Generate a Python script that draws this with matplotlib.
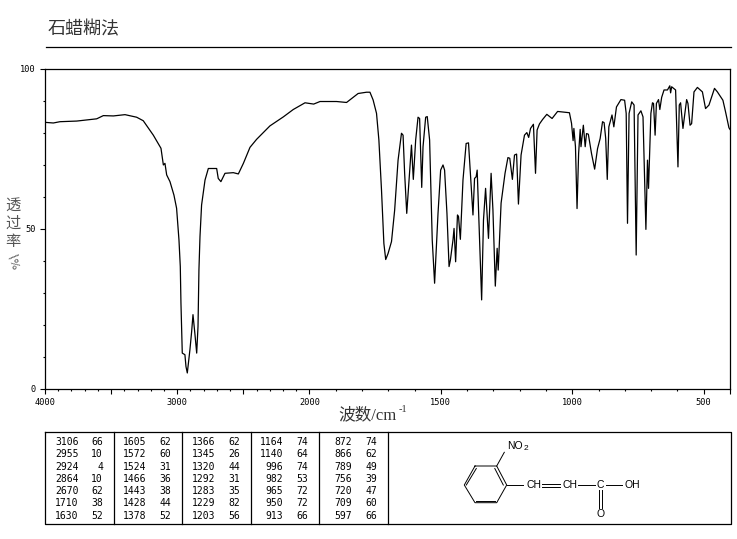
import numpy as np
import matplotlib
matplotlib.use('Agg')
import matplotlib.pyplot as plt
from matplotlib.ticker import FixedLocator, NullFormatter, FixedFormatter

W, H = 737, 539
CJK = ['Noto Sans CJK SC', 'DejaVu Sans']
SERIF = ['Liberation Serif', 'Noto Sans CJK SC']

title = '石蜡糊法'
xlabel = '波数/cm'
ylabel_chars = ['透', '过', '率']

# spectrum
wavenumber = [
    4000, 3937, 3887, 3760, 3609, 3559, 3483, 3395, 3307, 3257, 3181, 3123, 3105, 3093, 3080, 3055,
    3025, 3005, 2987, 2977, 2972, 2962, 2942, 2934, 2924, 2914, 2904, 2891, 2881, 2866, 2853, 2843,
    2836, 2828, 2816, 2790, 2765, 2702, 2690, 2670, 2639, 2576, 2538, 2500, 2450, 2400, 2299, 2198,
    2123, 2034, 1984, 1960, 1897, 1859, 1815, 1783, 1770, 1758, 1745, 1736, 1726, 1717, 1710, 1701,
    1688, 1676, 1663, 1650, 1644, 1638, 1630, 1622, 1612, 1605, 1596, 1587, 1581, 1573, 1568, 1558,
    1552, 1543, 1533, 1524, 1511, 1501, 1492, 1486, 1477, 1469, 1464, 1454, 1450, 1444, 1437, 1433,
    1426, 1416, 1404, 1395, 1387, 1378, 1372, 1366, 1362, 1345, 1338, 1330, 1319, 1309, 1302, 1293,
    1286, 1282, 1271, 1256, 1245, 1238, 1228, 1220, 1212, 1205, 1195, 1182, 1173, 1166, 1159, 1148,
    1140, 1134, 1125, 1113, 1097, 1077, 1056, 1011, 1003, 997, 994, 988, 982, 976, 970, 967,
    958, 951, 946, 939, 927, 915, 904, 894, 885, 879, 873, 867, 861, 849, 842, 832,
    815, 801, 795, 790, 784, 774, 765, 757, 750, 739, 731, 720, 714, 710, 701, 695,
    691, 685, 680, 672, 667, 660, 651, 638, 629, 626, 622, 607, 598, 593, 588, 579,
    565, 560, 552, 546, 537, 524, 505, 493, 480, 459, 448, 427, 417, 404, 400]
transmittance = [
    83.2, 83.0, 83.4, 83.6, 84.3, 85.3, 85.2, 85.6, 84.8, 83.7, 79.2, 75.1, 69.9, 70.4, 66.8, 64.7,
    60.5, 56.4, 46.5, 38.2, 26.8, 11.2, 10.7, 7.0, 5.0, 8.6, 12.3, 18.0, 23.2, 17.0, 11.2, 19.5,
    37.2, 47.6, 57.4, 65.2, 68.8, 68.8, 65.7, 64.7, 67.3, 67.5, 67.1, 70.4, 75.4, 77.9, 82.1, 84.9,
    87.2, 89.3, 88.9, 89.7, 89.7, 89.4, 92.2, 92.6, 92.6, 90.2, 86.0, 77.7, 62.0, 45.4, 40.4, 42.3,
    46.0, 55.8, 71.4, 79.8, 79.2, 67.3, 54.8, 64.2, 76.1, 65.4, 77.7, 84.8, 84.4, 62.9, 75.6, 84.8,
    85.0, 77.7, 46.5, 33.0, 54.8, 68.3, 69.9, 68.3, 54.8, 38.2, 40.2, 46.5, 50.1, 39.7, 54.3, 53.8,
    46.7, 65.2, 76.6, 76.8, 66.2, 54.3, 65.7, 66.2, 68.3, 27.8, 52.7, 62.6, 47.0, 67.3, 55.8, 32.1,
    43.9, 37.1, 58.0, 67.3, 72.2, 72.0, 65.4, 73.0, 73.3, 57.7, 73.0, 79.2, 80.0, 78.5, 81.3, 82.6,
    67.3, 80.8, 82.7, 84.1, 85.7, 84.4, 86.6, 86.2, 82.9, 77.5, 81.3, 75.6, 56.3, 73.5, 81.0, 75.6,
    82.3, 75.6, 79.7, 79.5, 73.5, 68.6, 75.0, 78.2, 83.4, 83.1, 78.2, 65.4, 81.8, 85.5, 81.8, 88.0,
    90.3, 90.1, 86.0, 51.7, 86.0, 89.6, 88.6, 41.8, 85.5, 86.8, 84.9, 49.8, 71.4, 62.6, 86.0, 89.3,
    89.1, 79.2, 89.1, 90.3, 87.2, 91.0, 93.3, 93.3, 94.6, 92.4, 94.3, 93.3, 69.3, 88.6, 89.3, 81.3,
    90.3, 89.1, 82.3, 82.8, 92.7, 94.1, 92.7, 87.5, 88.6, 93.8, 92.7, 90.1, 86.5, 81.5, 81.0]

# peak table, column by column
peak_wn = [
    [3106, 2955, 2924, 2864, 2670, 1710, 1630],
    [1605, 1572, 1524, 1466, 1443, 1428, 1378],
    [1366, 1345, 1320, 1292, 1283, 1229, 1203],
    [1164, 1140, 996, 982, 965, 950, 913],
    [872, 866, 789, 756, 720, 709, 597],
]
peak_t = [
    [66, 10, 4, 10, 62, 38, 52],
    [62, 60, 31, 36, 38, 44, 52],
    [62, 26, 44, 31, 35, 82, 56],
    [74, 64, 74, 53, 72, 72, 66],
    [74, 62, 49, 39, 47, 60, 66],
]

x_major = [4000, 3500, 3000, 2500, 2000, 1500, 1000, 500, 400]
x_labels = ['4000', '', '3000', '', '2000', '1500', '1000', '500', '']
x_minor = list(range(500, 4000, 100))
y_major = [0, 50, 100]
y_minor = [10, 20, 30, 40, 60, 70, 80, 90]


# the wavenumber axis is twice as wide below 2000
def forward(v):
    return np.interp(v, [400, 2000, 4000], [0, 420.5, 685])


def inverse(v):
    return np.interp(v, [0, 420.5, 685], [400, 2000, 4000])


fig = plt.figure(figsize=(W / 100, H / 100), dpi=100)

ax = fig.add_axes([45 / W, 1 - 389 / H, 685 / W, 320.5 / H])
ax.set_xscale('function', functions=(forward, inverse))
ax.plot(wavenumber, transmittance, color='black', lw=0.9)
ax.set_xlim(4000, 400)
ax.set_ylim(0, 100)

ax.xaxis.set_major_locator(FixedLocator(x_major))
ax.xaxis.set_major_formatter(FixedFormatter(x_labels))
ax.xaxis.set_minor_locator(FixedLocator(x_minor))
ax.xaxis.set_minor_formatter(NullFormatter())
ax.yaxis.set_major_locator(FixedLocator(y_major))
ax.yaxis.set_minor_locator(FixedLocator(y_minor))
ax.yaxis.set_minor_formatter(NullFormatter())
ax.tick_params(which='major', length=3.6, width=0.8, labelsize=6.2, pad=3)
ax.tick_params(which='minor', length=1.6, width=0.8)
for lab in ax.get_xticklabels() + ax.get_yticklabels():
    lab.set_family('DejaVu Sans Mono')
for s in ax.spines.values():
    s.set_linewidth(0.9)

# everything else is laid out in pixels of the picture
page = fig.add_axes([0, 0, 1, 1], zorder=-1)
page.set_xlim(0, W)
page.set_ylim(H, 0)
page.axis('off')

page.text(48, 29, title, family=CJK, fontsize=13, color='#333333', va='center', ha='left')
page.plot([46, 731], [47, 47], color='black', lw=0.9)

page.text(338, 415, xlabel, family=SERIF, fontsize=12, color='#333333', va='center', ha='left')
page.text(399, 409, '-1', family=SERIF, fontsize=7.5, color='#333333', va='center', ha='left')

for y, ch in zip([205.5, 223.5, 241.5], ylabel_chars):
    page.text(13, y, ch, family=CJK, fontsize=11, color='#555555', va='center', ha='center')
page.text(13, 256, '/', fontsize=9, color='#555555', va='center', ha='center', rotation=-50)
page.text(13, 264, '%', fontsize=8, color='#555555', va='center', ha='center', rotation=-70)

# peak table frame
page.plot([45, 731, 731, 45, 45], [432, 432, 524, 524, 432], color='black', lw=0.9)
for x in [114.5, 182.5, 251, 319.5, 388]:
    page.plot([x, x], [432, 524], color='black', lw=0.9)

row_y = [441.7, 454, 466.7, 479, 491, 503.3, 515.7]
wn_right = [78.5, 146, 215, 283, 352]
t_right = [103, 171, 240, 308, 377]
for c in range(5):
    for r in range(7):
        page.text(wn_right[c], row_y[r], str(peak_wn[c][r]), family='DejaVu Sans Mono', fontsize=7,
                  va='center', ha='right')
        page.text(t_right[c], row_y[r], str(peak_t[c][r]), family='DejaVu Sans Mono', fontsize=7,
                  va='center', ha='right')

# structure: benzene ring
ring_x = [475, 496.7, 506.7, 496.7, 475, 464.3, 475]
ring_y = [466, 466, 485, 502.7, 502.7, 485, 466]
page.plot(ring_x, ring_y, color='black', lw=0.7)
page.plot([494.8, 503.3], [468.5, 485], color='black', lw=0.7)
page.plot([476.5, 495], [501, 501], color='black', lw=0.7)
page.plot([466.3, 476.3], [485, 468.5], color='black', lw=0.7)

# structure: substituents
page.plot([496.7, 504.3], [466, 452.3], color='black', lw=0.7)
page.plot([506.7, 523.3], [485, 485], color='black', lw=0.7)
page.plot([541.7, 560], [483.5, 483.5], color='black', lw=0.7)
page.plot([541.7, 560], [486.7, 486.7], color='black', lw=0.7)
page.plot([578, 595], [485, 485], color='black', lw=0.7)
page.plot([606, 621.7], [485, 485], color='black', lw=0.7)
page.plot([598.7, 598.7], [490, 508], color='black', lw=0.7)
page.plot([601.7, 601.7], [490, 508], color='black', lw=0.7)

mol = dict(family='Liberation Sans', fontsize=7.5, va='center', ha='center')
page.text(515, 446, 'NO', **mol)
page.text(525.5, 448.5, '2', family='Liberation Sans', fontsize=6, va='center', ha='center')
page.text(534, 485, 'CH', **mol)
page.text(570, 485, 'CH', **mol)
page.text(600.5, 485, 'C', **mol)
page.text(632.5, 485, 'OH', **mol)
page.text(601, 514, 'O', **mol)

fig.savefig('out.png', dpi=100)
